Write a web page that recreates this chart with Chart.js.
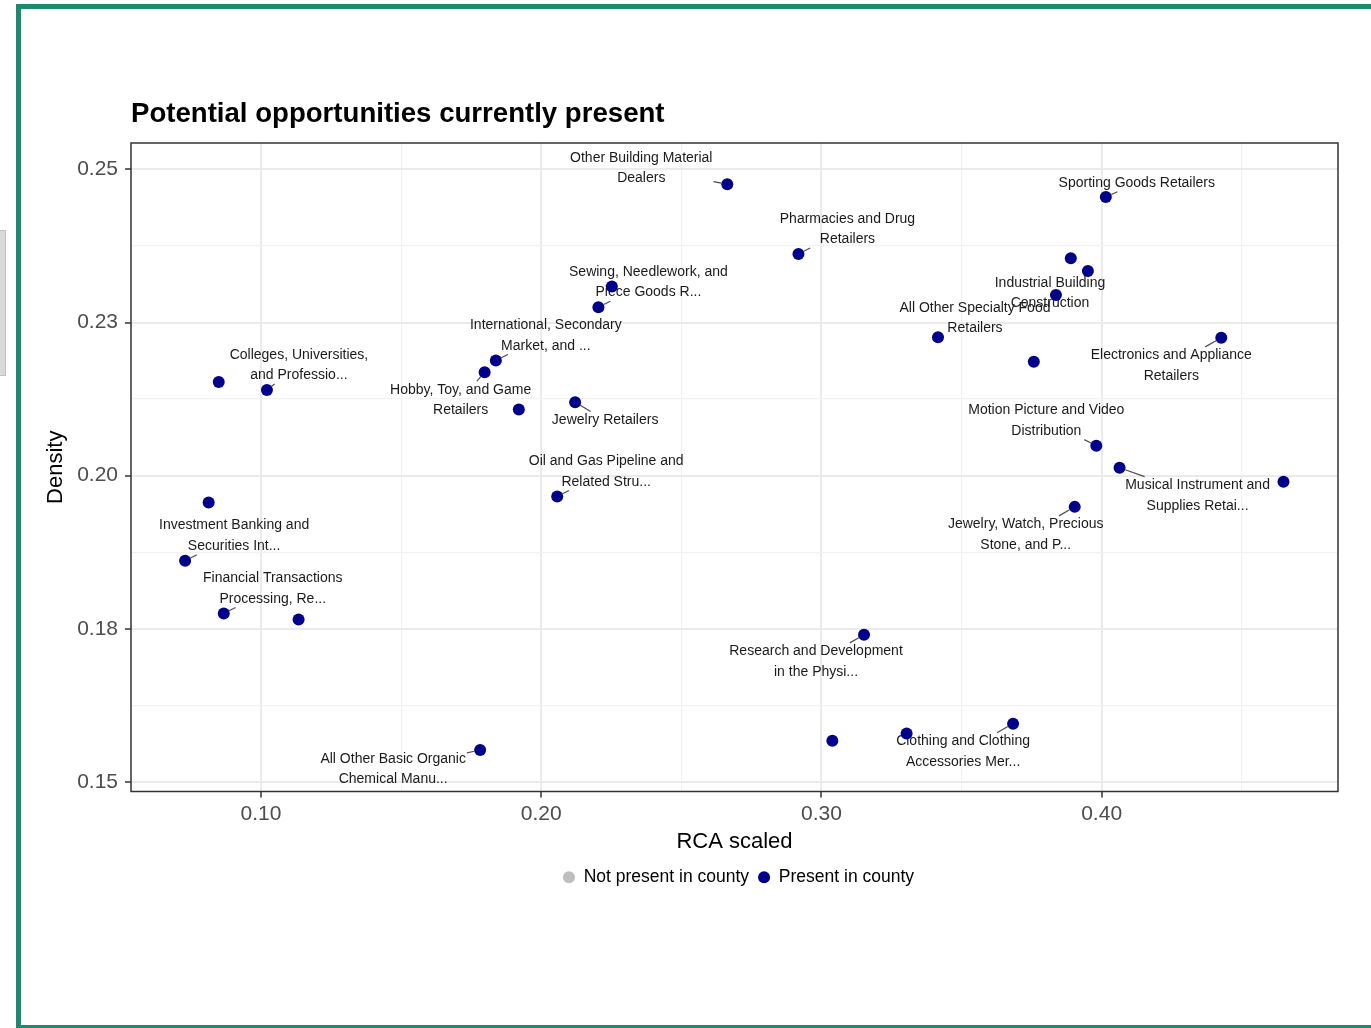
<!DOCTYPE html>
<html lang="en">
<head>
<meta charset="UTF-8">
<title>Potential opportunities currently present</title>
<script src="https://cdn.jsdelivr.net/npm/chart.js"></script>
<style>
    html, body {
        margin: 0;
        padding: 0;
        background: #fff;
    }
    body {
        width: 1371px;
        height: 1028px;
        position: relative;
        overflow: hidden;
    }
    .frame {
        position: absolute;
        left: 16px;
        top: 4px;
        width: 1400px;
        height: 1016px;
        border-left: 5px solid #1b8a6f;
        border-top: 5px solid #1b8a6f;
        border-bottom: 3px solid #1b8a6f;
    }
    .tab {
        position: absolute;
        left: 0;
        top: 230px;
        width: 5px;
        height: 144px;
        background: #d9d9d9;
        border: 1px solid #c2c2c2;
        border-left: none;
    }
    canvas {
        position: absolute;
        left: 0;
        top: 0;
    }
</style>
</head>
<body>
<div class="tab"></div>
<div class="frame"></div>
<canvas id="chart" width="1371" height="1028"></canvas>

<script>
    // values
    var chartTitle = 'Potential opportunities currently present';
    var xTitle = 'RCA scaled';
    var yTitle = 'Density';
    var legendNames = ['Not present in county', 'Present in county'];

    var xValues = [0.2664, 0.4015, 0.2918, 0.3890, 0.3951, 0.3837, 0.2252, 0.2204,
                   0.3416, 0.4427, 0.3758, 0.1838, 0.1798, 0.0849, 0.1021, 0.1920,
                   0.2121, 0.3981, 0.4064, 0.4649, 0.3904, 0.2057, 0.0813, 0.0729,
                   0.0867, 0.1134, 0.3152, 0.3039, 0.3304, 0.3684, 0.1782];
    var yValues = [0.2476, 0.2455, 0.2362, 0.2355, 0.2334, 0.2295, 0.2309, 0.2275,
                   0.2226, 0.2225, 0.2186, 0.2188, 0.2169, 0.2153, 0.2140, 0.2108,
                   0.2120, 0.2049, 0.2013, 0.1990, 0.1949, 0.1966, 0.1956, 0.1861,
                   0.1775, 0.1765, 0.1740, 0.1567, 0.1579, 0.1595, 0.1552];
    var pointNames = [
        'Other Building Material\nDealers',
        'Sporting Goods Retailers',
        'Pharmacies and Drug\nRetailers',
        '',
        '',
        'Industrial Building\nConstruction',
        '',
        'Sewing, Needlework, and\nPiece Goods R...',
        'All Other Specialty Food\nRetailers',
        'Electronics and Appliance\nRetailers',
        '',
        'International, Secondary\nMarket, and ...',
        'Hobby, Toy, and Game\nRetailers',
        '',
        'Colleges, Universities,\nand Professio...',
        '',
        'Jewelry Retailers',
        'Motion Picture and Video\nDistribution',
        'Musical Instrument and\nSupplies Retai...',
        '',
        'Jewelry, Watch, Precious\nStone, and P...',
        'Oil and Gas Pipeline and\nRelated Stru...',
        '',
        'Investment Banking and\nSecurities Int...',
        'Financial Transactions\nProcessing, Re...',
        '',
        'Research and Development\nin the Physi...',
        '',
        '',
        'Clothing and Clothing\nAccessories Mer...',
        'All Other Basic Organic\nChemical Manu...'
    ];

    var xTickValues = [0.1, 0.2, 0.3, 0.4];
    var xTickLabels = ['0.10', '0.20', '0.30', '0.40'];
    var xMinorValues = [0.15, 0.25, 0.35, 0.45];
    var yTickValues = [0.15, 0.175, 0.2, 0.225, 0.25];
    var yTickLabels = ['0.15', '0.18', '0.20', '0.23', '0.25'];
    var yMinorValues = [0.1625, 0.1875, 0.2125, 0.2375];

    // where each label sits, in pixels from its point (layout only)
    var labelOffsets = [
        [-86, -16], [31, -14], [49, -25], null, null, [-6, -2], null, [50, -25],
        [37, -19], [-50, 28], null, [50, -25], [-24, 28], null, [32, -25], null,
        [30, 18], [-50, -25], [78, 28], null, [-49, 28], [49, -25], null, [49, -25],
        [49, -25], null, [-48, 27], null, null, [-50, 28], [-87, 19]
    ];

    var fontFamily = '"Liberation Sans", Arial, Helvetica, sans-serif';
    Chart.defaults.font.family = fontFamily;

    function isIn(list, v) {
        return list.indexOf(v) >= 0;
    }

    var points = xValues.map(function(v, i) {
        return { x: v, y: yValues[i] };
    });

    var panelPlugin = {
        id: 'panel',
        afterLayout: function(chart) {
            // ggplot centres the legend under the panel, not the canvas
            var shift = (chart.chartArea.left + chart.chartArea.right) / 2 + 4 - (chart.legend.left + chart.legend.right) / 2;
            chart.legend.left += shift;
            chart.legend.right += shift;
        },
        beforeDatasetsDraw: function(chart) {
            var ctx = chart.ctx;
            var a = chart.chartArea;
            var xs = chart.scales.x;
            var ys = chart.scales.y;

            ctx.save();
            ctx.strokeStyle = '#333333';
            ctx.lineWidth = 1.5;
            ctx.strokeRect(a.left, a.top, a.right - a.left, a.bottom - a.top);

            ctx.font = '14px ' + fontFamily;
            ctx.textAlign = 'center';
            ctx.textBaseline = 'middle';
            var lineH = 20.5;
            var r = 6;

            for (var i = 0; i < pointNames.length; i++) {
                if (!pointNames[i]) continue;
                var px = xs.getPixelForValue(xValues[i]);
                var py = ys.getPixelForValue(yValues[i]);
                var cx = px + labelOffsets[i][0];
                var cy = py + labelOffsets[i][1];
                var lines = pointNames[i].split('\n');
                var w = Math.max.apply(null, lines.map(function(l) { return ctx.measureText(l).width; })) + 2;
                var h = lines.length * lineH - 3;

                // segment from the point toward the label centre, stopped at the label box
                var dx = cx - px, dy = cy - py;
                var len = Math.sqrt(dx * dx + dy * dy);
                var s = Math.min(dx ? (w / 2) / Math.abs(dx) : Infinity, dy ? (h / 2) / Math.abs(dy) : Infinity);
                if (s < 1) {
                    var segLen = (1 - s) * len;
                    if (segLen - r > 1) {
                        ctx.strokeStyle = '#4d4d4d';
                        ctx.lineWidth = 1.2;
                        ctx.beginPath();
                        ctx.moveTo(px + dx / len * r, py + dy / len * r);
                        ctx.lineTo(px + dx * (1 - s), py + dy * (1 - s));
                        ctx.stroke();
                    }
                }

                ctx.fillStyle = '#1a1a1a';
                for (var k = 0; k < lines.length; k++) {
                    ctx.fillText(lines[k], cx, cy + (k - (lines.length - 1) / 2) * lineH);
                }
            }

            ctx.font = 'bold 27.6px ' + fontFamily;
            ctx.textAlign = 'left';
            ctx.fillStyle = '#000';
            ctx.fillText(chartTitle, a.left, a.top - 29);
            ctx.restore();
        }
    };

    var chart = new Chart(document.getElementById('chart'), {
        type: 'scatter',
        data: {
            datasets: [
                {
                    label: legendNames[0],
                    data: [],
                    backgroundColor: '#bebebe',
                    borderWidth: 0,
                    pointRadius: 6
                },
                {
                    label: legendNames[1],
                    data: points,
                    backgroundColor: '#00008b',
                    borderWidth: 0,
                    pointRadius: 6,
                    pointHoverRadius: 6
                }
            ]
        },
        options: {
            responsive: false,
            animation: false,
            events: [],
            layout: {
                padding: { top: 143, left: 43, right: 33, bottom: 132 }
            },
            plugins: {
                tooltip: { enabled: false },
                legend: {
                    position: 'bottom',
                    labels: {
                        usePointStyle: true,
                        pointStyle: 'circle',
                        boxWidth: 12,
                        boxHeight: 8.5,
                        padding: 9,
                        color: '#000',
                        font: { size: 17.5 }
                    }
                }
            },
            scales: {
                x: {
                    type: 'linear',
                    min: 0.05359,
                    max: 0.48436,
                    afterBuildTicks: function(scale) {
                        scale.ticks = xTickValues.concat(xMinorValues).sort(function(a, b) { return a - b; })
                            .map(function(v) { return { value: v }; });
                    },
                    afterFit: function(scale) {
                        scale.height = 68;
                    },
                    ticks: {
                        autoSkip: false,
                        maxRotation: 0,
                        padding: 4,
                        color: '#4d4d4d',
                        font: { size: 21 },
                        callback: function(v) {
                            var i = xTickValues.indexOf(v);
                            return i < 0 ? '' : xTickLabels[i];
                        }
                    },
                    grid: {
                        color: function(c) { return isIn(xTickValues, c.tick.value) ? '#ebebeb' : '#f2f2f2'; },
                        lineWidth: function(c) { return isIn(xTickValues, c.tick.value) ? 2 : 1.2; },
                        tickLength: 6,
                        tickWidth: 1.5,
                        tickColor: function(c) { return isIn(xTickValues, c.tick.value) ? '#333333' : 'rgba(0,0,0,0)'; }
                    },
                    border: { display: false },
                    title: {
                        display: true,
                        text: xTitle,
                        color: '#000',
                        font: { size: 22 },
                        padding: { top: 0, bottom: 4 }
                    }
                },
                y: {
                    type: 'linear',
                    min: 0.14842,
                    max: 0.25432,
                    afterBuildTicks: function(scale) {
                        scale.ticks = yTickValues.concat(yMinorValues).sort(function(a, b) { return a - b; })
                            .map(function(v) { return { value: v }; });
                    },
                    afterFit: function(scale) {
                        scale.width = 88;
                    },
                    ticks: {
                        autoSkip: false,
                        padding: 7,
                        color: '#4d4d4d',
                        font: { size: 21 },
                        callback: function(v) {
                            var i = yTickValues.indexOf(v);
                            return i < 0 ? '' : yTickLabels[i];
                        }
                    },
                    grid: {
                        color: function(c) { return isIn(yTickValues, c.tick.value) ? '#ebebeb' : '#f2f2f2'; },
                        lineWidth: function(c) { return isIn(yTickValues, c.tick.value) ? 2 : 1.2; },
                        tickLength: 6,
                        tickWidth: 1.5,
                        tickColor: function(c) { return isIn(yTickValues, c.tick.value) ? '#333333' : 'rgba(0,0,0,0)'; }
                    },
                    border: { display: false },
                    title: {
                        display: true,
                        text: yTitle,
                        color: '#000',
                        font: { size: 22 },
                        padding: { top: 0, bottom: 0 }
                    }
                }
            }
        },
        plugins: [panelPlugin]
    });
</script>
</body>
</html>
